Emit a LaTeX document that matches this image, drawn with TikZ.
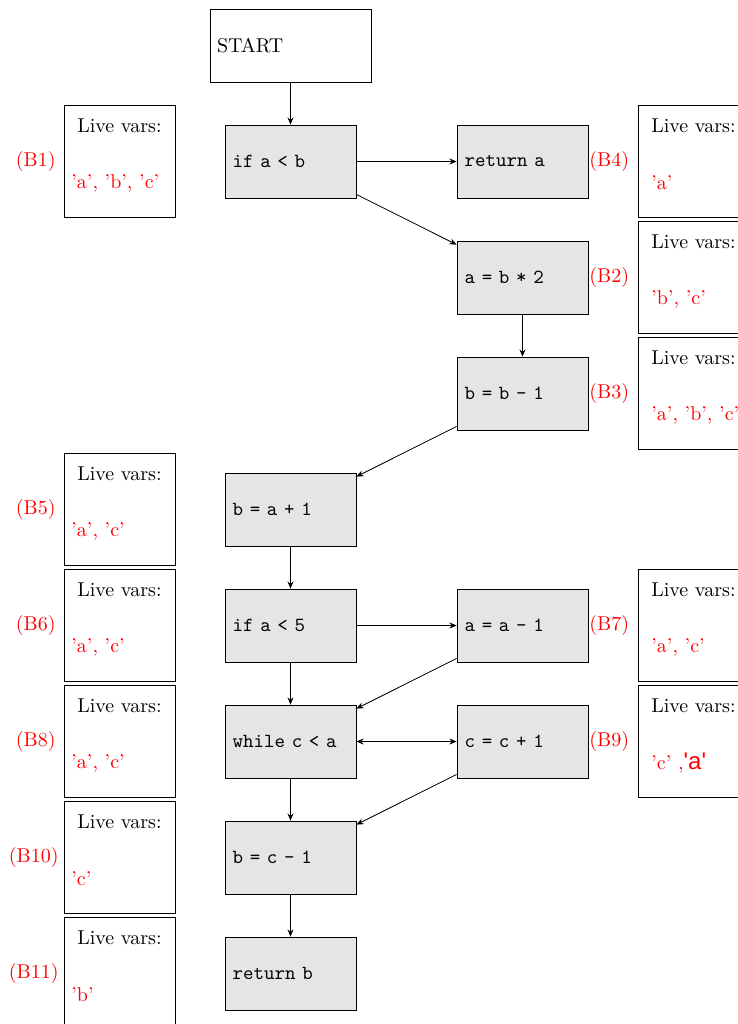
\documentclass[tikz,border=0pt]{standalone}
\usepackage{fontspec}
\newfontfamily\sfa[Ligatures=TeXOff]{Liberation Sans}
\usetikzlibrary{arrows.meta}
\begin{document}
\begin{tikzpicture}[x=0.5pt,y=-0.5pt,
  code/.style={draw, fill=gray!20, minimum width=65.5pt, minimum height=36.5pt,
    text width=57.9pt, inner xsep=3.8pt, align=left, font=\ttfamily},
  startbox/.style={draw, minimum width=80.5pt, minimum height=36.5pt,
    text width=73.5pt, inner xsep=3.5pt, align=left},
  live/.style={draw, minimum width=55.5pt, minimum height=56pt, inner sep=0pt},
  lt/.style={inner sep=0pt},
  lv/.style={inner sep=0pt, anchor=west, text=red},
  bl/.style={inner sep=0pt, text=red},
  tip/.tip={Stealth[length=3.6pt,width=3pt]},
  arr/.style={-tip}]
\clip (0,0) rectangle (738,1024);
% start
\node[startbox] (start) at (290.5,45.5) {START};
% code blocks, left column
\node[code] (n1) at (290.5,161.5) {if a < b};
\node[code] (n5) at (290.5,509.5) {b = a + 1};
\node[code] (n6) at (290.5,625.5) {if a < 5};
\node[code] (n8) at (290.5,741.5) {while c < a};
\node[code] (n10) at (290.5,857.5) {b = c - 1};
\node[code] (n11) at (290.5,973.5) {return b};
% code blocks, right column
\node[code] (n4) at (522.5,161.5) {return a};
\node[code] (n2) at (522.5,277.5) {a = b * 2};
\node[code] (n3) at (522.5,393.5) {b = b - 1};
\node[code] (n7) at (522.5,625.5) {a = a - 1};
\node[code] (n9) at (522.5,741.5) {c = c + 1};
% live boxes left
\node[live] (L1) at (119.5,161) {};
\node[lt] (L1t) at (119.5,126) {Live vars:};
\node[lv] (L1v) at (71,183) {'a', 'b', 'c'};
\node[bl,anchor=east] (B1) at (56,161) {(B1)};

\node[live] (L5) at (119.5,509) {};
\node[lt] (L5t) at (119.5,474) {Live vars:};
\node[lv] (L5v) at (71,531) {'a', 'c'};
\node[bl,anchor=east] (B5) at (56,509) {(B5)};

\node[live] (L6) at (119.5,625) {};
\node[lt] (L6t) at (119.5,590) {Live vars:};
\node[lv] (L6v) at (71,647) {'a', 'c'};
\node[bl,anchor=east] (B6) at (56,625) {(B6)};

\node[live] (L8) at (119.5,741) {};
\node[lt] (L8t) at (119.5,706) {Live vars:};
\node[lv] (L8v) at (71,763) {'a', 'c'};
\node[bl,anchor=east] (B8) at (56,741) {(B8)};

\node[live] (L10) at (119.5,857) {};
\node[lt] (L10t) at (119.5,822) {Live vars:};
\node[lv] (L10v) at (71,879) {'c'};
\node[bl,anchor=east] (B10) at (59,857) {(B10)};

\node[live] (L11) at (119.5,973) {};
\node[lt] (L11t) at (119.5,938) {Live vars:};
\node[lv] (L11v) at (71,995) {'b'};
\node[bl,anchor=east] (B11) at (59,973) {(B11)};
% live boxes right
\node[live] (R4) at (693.5,161) {};
\node[lt] (R4t) at (693.5,126) {Live vars:};
\node[lv] (R4v) at (651,183) {'a'};
\node[bl,anchor=west] (B4) at (589,161) {(B4)};

\node[live] (R2) at (693.5,277) {};
\node[lt] (R2t) at (693.5,242) {Live vars:};
\node[lv] (R2v) at (651,299) {'b', 'c'};
\node[bl,anchor=west] (B2) at (589,277) {(B2)};

\node[live] (R3) at (693.5,393) {};
\node[lt] (R3t) at (693.5,358) {Live vars:};
\node[lv] (R3v) at (651,415) {'a', 'b', 'c'};
\node[bl,anchor=west] (B3) at (589,393) {(B3)};

\node[live] (R7) at (693.5,625) {};
\node[lt] (R7t) at (693.5,590) {Live vars:};
\node[lv] (R7v) at (651,647) {'a', 'c'};
\node[bl,anchor=west] (B7) at (589,625) {(B7)};

\node[live] (R9) at (693.5,741) {};
\node[lt] (R9t) at (693.5,706) {Live vars:};
\node[lv] (R9v) at (651,763) {'c' ,{\sfa\large 'a'}};
\node[bl,anchor=west] (B9) at (589,741) {(B9)};
% connectors
\draw[arr] (start) -- (n1);
\draw[arr] (n1) -- (n4);
\draw[arr] (n1) -- (n2);
\draw[arr] (n2) -- (n3);
\draw[arr] (n3) -- (n5);
\draw[arr] (n5) -- (n6);
\draw[arr] (n6) -- (n7);
\draw[arr] (n6) -- (n8);
\draw[arr] (n7) -- (n8);
\draw[tip-tip] (n8) -- (n9);
\draw[arr] (n9) -- (n10);
\draw[arr] (n8) -- (n10);
\draw[arr] (n10) -- (n11);
\end{tikzpicture}
\end{document}
